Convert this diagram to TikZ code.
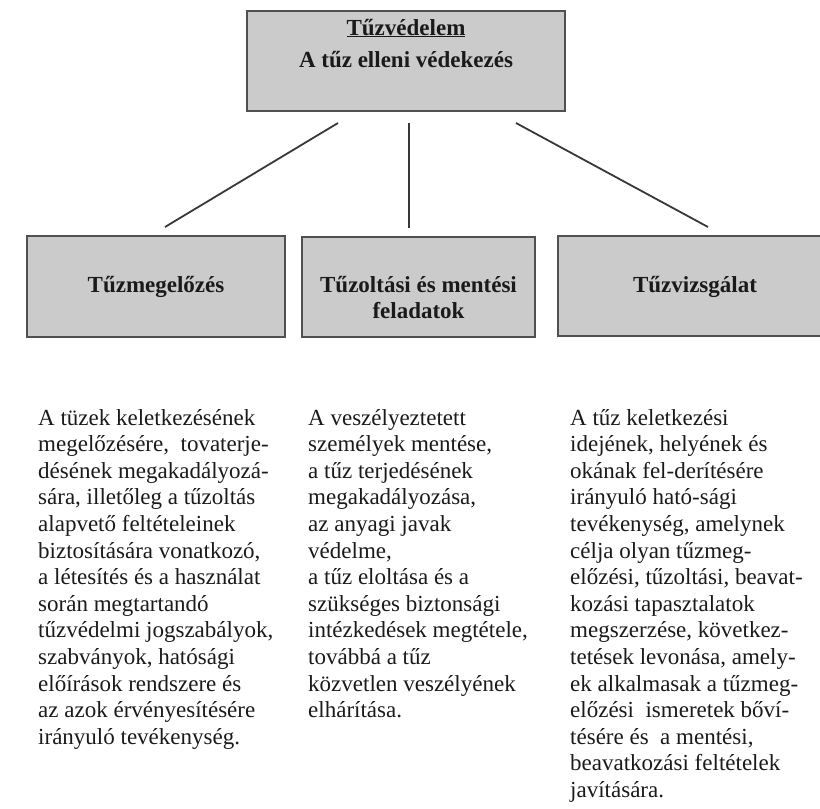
\documentclass[tikz,border=0pt]{standalone}
\usepackage{fontspec}
\setmainfont{Liberation Serif}
\definecolor{boxfill}{HTML}{CBCBCB}
\definecolor{boxline}{HTML}{505050}
\definecolor{connc}{HTML}{383838}
\definecolor{textc}{HTML}{1A1A1A}
\begin{document}
\begin{tikzpicture}[x=1pt,y=-1pt,
  box/.style={draw=boxline, line width=2.6pt, fill=boxfill, inner sep=0pt, outer sep=0pt, anchor=north west},
  head/.style={font=\fontsize{23}{26.5}\selectfont\bfseries, text=textc, inner sep=0pt, anchor=base},
  conn/.style={draw=connc, line width=1.8pt},
  body/.style={inner sep=0pt, anchor=base west, text=textc}]
\useasboundingbox (0,0) rectangle (820,809);
\clip (0,0) rectangle (820,809);
% boxes
\node[box, minimum width=318pt, minimum height=100pt] (top) at (247,11) {};
\node[box, minimum width=258pt, minimum height=101pt] (lbox) at (27,236) {};
\node[box, minimum width=233pt, minimum height=100pt] (mbox) at (302,237) {};
\node[box, minimum width=274pt, minimum height=100pt] (rbox) at (558,236) {};
% box texts
\node[head] (toptitle) at (406,35) {\underline{Tűzvédelem}};
\node[head] (topsub) at (406,67) {A tűz elleni védekezés};
\node[head] (ltitle) at (156,292) {Tűzmegelőzés};
\node[head] (mtitle1) at (418.5,292) {Tűzoltási és mentési};
\node[head] (mtitle2) at (418.5,318) {feladatok};
\node[head] (rtitle) at (695,292) {Tűzvizsgálat};
% connectors
\draw[conn] ([shift={(91,12)}]top.south west) -- ([shift={(138,-9)}]lbox.north west);
\draw[conn] ([shift={(3,12)}]top.south) -- ([shift={(-9.5,-9)}]mbox.north);
\draw[conn] ([shift={(-49,12)}]top.south east) -- ([shift={(150,-9)}]rbox.north west);
% body texts
\node[body] (lbody) at (38,425) {\begin{minipage}[t]{300pt}\fontsize{23}{26.6}\selectfont\raggedright
A tüzek keletkezésének\\
megelőzésére, \ tovaterje-\\
désének megakadályozá-\\
sára, illetőleg a tűzoltás\\
alapvető feltételeinek\\
biztosítására vonatkozó,\\
a létesítés és a használat\\
során megtartandó\\
tűzvédelmi jogszabályok,\\
szabványok, hatósági\\
előírások rendszere és\\
az azok érvényesítésére\\
irányuló tevékenység.
\end{minipage}};
\node[body] (mbody) at (308,425) {\begin{minipage}[t]{300pt}\fontsize{23}{26.6}\selectfont\raggedright
A veszélyeztetett\\
személyek mentése,\\
a tűz terjedésének\\
megakadályozása,\\
az anyagi javak\\
védelme,\\
a tűz eloltása és a\\
szükséges biztonsági\\
intézkedések megtétele,\\
továbbá a tűz\\
közvetlen veszélyének\\
elhárítása.
\end{minipage}};
\node[body] (rbody) at (570,425) {\begin{minipage}[t]{300pt}\fontsize{23}{26.6}\selectfont\raggedright
A tűz keletkezési\\
idejének, helyének és\\
okának fel-derítésére\\
irányuló ható-sági\\
tevékenység, amelynek\\
célja olyan tűzmeg-\\
előzési, tűzoltási, beavat-\\
kozási tapasztalatok\\
megszerzése, következ-\\
tetések levonása, amely-\\
ek alkalmasak a tűzmeg-\\
előzési \ ismeretek bőví-\\
tésére és \ a mentési,\\
beavatkozási feltételek\\
javítására.
\end{minipage}};
\end{tikzpicture}
\end{document}
